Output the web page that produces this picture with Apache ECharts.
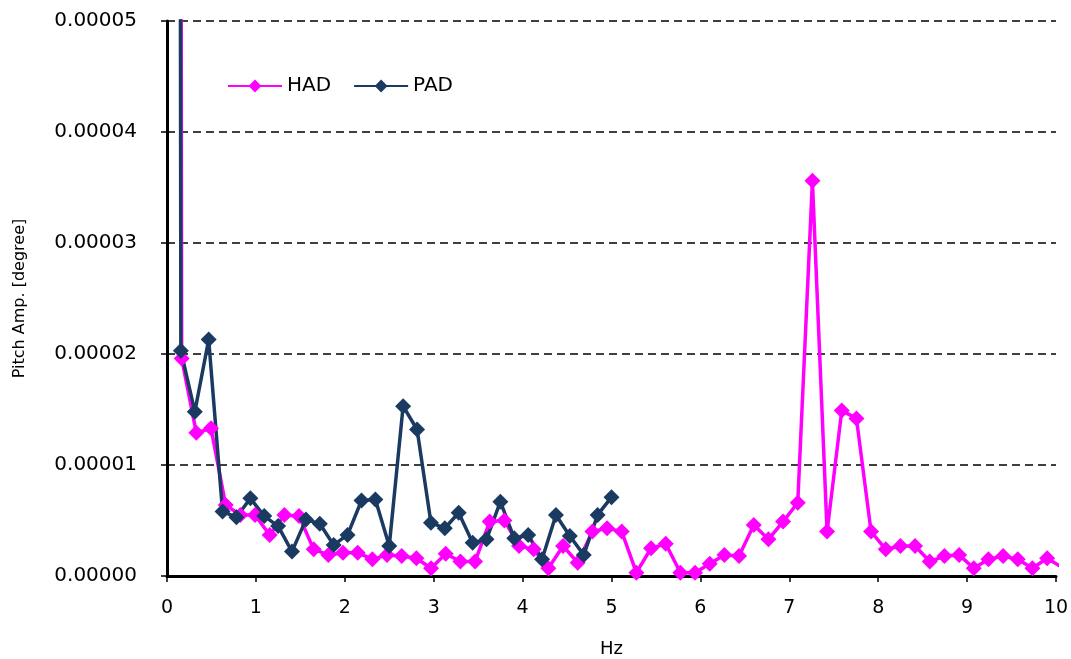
<!DOCTYPE html>
<html>
<head>
<meta charset="utf-8">
<script src="https://cdn.jsdelivr.net/npm/echarts@6/dist/echarts.min.js"></script>
<style>
html,body{margin:0;padding:0;background:#fff;overflow:hidden;}
#chart{width:1071px;height:659px;}
</style>
</head>
<body>
<div id="chart"></div>
<script>
// Frequencies (Hz) and amplitudes (degree)
const freqHAD = [0, 0.165, 0.33, 0.495, 0.66, 0.825, 0.99, 1.155, 1.32, 1.485, 1.65, 1.815, 1.98, 2.145, 2.31, 2.475, 2.64, 2.805, 2.97, 3.135, 3.3, 3.465, 3.63, 3.795, 3.96, 4.125, 4.29, 4.455, 4.62, 4.785, 4.95, 5.115, 5.28, 5.445, 5.61, 5.775, 5.94, 6.105, 6.27, 6.435, 6.6, 6.765, 6.93, 7.095, 7.26, 7.425, 7.59, 7.755, 7.92, 8.085, 8.25, 8.415, 8.58, 8.745, 8.91, 9.075, 9.24, 9.405, 9.57, 9.735, 9.9, 10.065];
const ampHAD = [1.0e-3, 1.96e-5, 1.29e-5, 1.33e-5, 0.64e-5, 0.55e-5, 0.55e-5, 0.37e-5, 0.55e-5, 0.54e-5, 0.24e-5, 0.19e-5, 0.21e-5, 0.21e-5, 0.15e-5, 0.19e-5, 0.18e-5, 0.16e-5, 0.07e-5, 0.20e-5, 0.13e-5, 0.13e-5, 0.49e-5, 0.50e-5, 0.27e-5, 0.24e-5, 0.07e-5, 0.27e-5, 0.12e-5, 0.40e-5, 0.43e-5, 0.40e-5, 0.03e-5, 0.25e-5, 0.29e-5, 0.03e-5, 0.03e-5, 0.11e-5, 0.19e-5, 0.18e-5, 0.46e-5, 0.33e-5, 0.49e-5, 0.66e-5, 3.56e-5, 0.40e-5, 1.49e-5, 1.42e-5, 0.40e-5, 0.24e-5, 0.27e-5, 0.27e-5, 0.13e-5, 0.18e-5, 0.19e-5, 0.07e-5, 0.15e-5, 0.18e-5, 0.15e-5, 0.07e-5, 0.16e-5, 0.08e-5];
const freqPAD = [0, 0.156, 0.313, 0.469, 0.625, 0.781, 0.938, 1.094, 1.25, 1.406, 1.563, 1.719, 1.875, 2.031, 2.188, 2.344, 2.5, 2.656, 2.813, 2.969, 3.125, 3.281, 3.438, 3.594, 3.75, 3.906, 4.063, 4.219, 4.375, 4.531, 4.688, 4.844, 5.0];
const ampPAD = [1.0e-3, 2.03e-5, 1.48e-5, 2.13e-5, 0.58e-5, 0.53e-5, 0.70e-5, 0.54e-5, 0.45e-5, 0.22e-5, 0.51e-5, 0.47e-5, 0.28e-5, 0.37e-5, 0.68e-5, 0.69e-5, 0.27e-5, 1.53e-5, 1.32e-5, 0.48e-5, 0.43e-5, 0.57e-5, 0.30e-5, 0.33e-5, 0.67e-5, 0.34e-5, 0.37e-5, 0.15e-5, 0.55e-5, 0.36e-5, 0.19e-5, 0.55e-5, 0.71e-5];
const seriesNames = ['HAD', 'PAD'];

const FONT = 'DejaVu Sans';
const chart = echarts.init(document.getElementById('chart'), null, {renderer: 'canvas'});
chart.setOption({
  animation: false,
  backgroundColor: '#ffffff',
  textStyle: {fontFamily: FONT},
  grid: {left: 167, right: 15, top: 21, bottom: 83, containLabel: false, outerBoundsMode: 'none'},
  legend: {
    data: seriesNames,
    left: 222, top: 71,
    itemWidth: 54, itemHeight: 16, itemGap: 22,
    textStyle: {fontFamily: FONT, fontSize: 20, color: '#000'}
  },
  xAxis: {
    type: 'value', min: 0, max: 10, interval: 1,
    name: 'Hz', nameLocation: 'middle', nameGap: 64,
    nameTextStyle: {fontFamily: FONT, fontSize: 18, color: '#000'},
    axisLine: {show: true, onZero: false, lineStyle: {color: '#000', width: 3}},
    axisTick: {show: true, inside: false, length: 6, lineStyle: {color: '#000', width: 1.5}},
    axisLabel: {margin: 23, fontFamily: FONT, fontSize: 19, color: '#000'},
    splitLine: {show: false}
  },
  yAxis: {
    type: 'value', min: 0, max: 0.00005, interval: 0.00001,
    name: 'Pitch Amp. [degree]', nameLocation: 'middle', nameGap: 139, nameRotate: 90,
    nameTextStyle: {fontFamily: FONT, fontSize: 16, color: '#000'},
    axisLine: {show: true, lineStyle: {color: '#000', width: 3}},
    axisTick: {show: true, inside: false, length: 6, lineStyle: {color: '#000', width: 1.5}},
    axisLabel: {margin: 30, fontFamily: FONT, fontSize: 20, color: '#000',
      formatter: v => v.toFixed(5)},
    splitLine: {show: true, lineStyle: {color: '#000', width: 1.5, type: [8, 5]}}
  },
  series: [
    {
      name: 'HAD', type: 'line', clip: true,
      data: freqHAD.map((f, i) => [f, ampHAD[i]]),
      symbol: 'diamond', symbolSize: 16,
      color: '#FF00FF',
      itemStyle: {color: '#FF00FF'},
      lineStyle: {color: '#FF00FF', width: 3.5}
    },
    {
      name: 'PAD', type: 'line', clip: true,
      data: freqPAD.map((f, i) => [f, ampPAD[i]]),
      symbol: 'diamond', symbolSize: 16,
      color: '#1A3A62',
      itemStyle: {color: '#1A3A62'},
      lineStyle: {color: '#1A3A62', width: 3.5}
    }
  ]
});
</script>
</body>
</html>
